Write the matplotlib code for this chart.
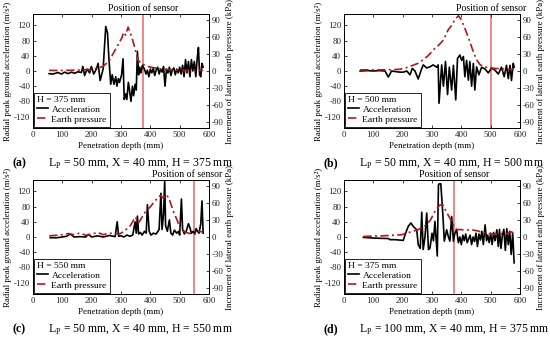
import matplotlib
matplotlib.use("Agg")
import matplotlib.pyplot as plt
from matplotlib.transforms import blended_transform_factory

plt.rcParams['font.family'] = ['Liberation Serif', 'DejaVu Serif']
plt.rcParams['mathtext.fontset'] = 'custom'
plt.rcParams['mathtext.rm'] = 'Liberation Serif'
plt.rcParams['axes.unicode_minus'] = False

# (a) Lp = 50 mm, X = 40 mm, H = 375 mm
acc_x_a = [55, 68, 85, 97, 108, 119, 131, 142, 153, 165, 170, 176, 184, 193, 199, 207, 216, 222, 229, 239,
           248, 254, 259, 265, 270, 276, 282, 286, 291, 295, 302, 307, 311, 316, 320, 325, 329, 334, 339, 343,
           348, 352, 356, 360, 364, 368, 373, 380, 385, 390, 395, 400, 405, 410, 415, 420, 425, 430, 435, 440,
           445, 450, 455, 460, 465, 470, 475, 480, 485, 490, 495, 500, 505, 510, 515, 520, 525, 530, 535, 540,
           545, 550, 555, 560, 564, 568, 572, 576, 580]
acc_y_a = [-7, -8, -4, -8, -3, -7, -3, -6, -2, -4, 12, -12, 5, -5, 12, -8, 5, 20, -25, 5,
           117, 100, 30, -35, -10, -35, -15, -40, -20, -30, -10, 32, -75, -60, -75, -30, -50, -80, -40, -65,
           -35, -50, 52, -10, 10, -5, 15, 5, -8, 2, -15, 5, -5, 8, -12, 3, 10, -8, 5, -3,
           12, -40, 5, -5, 10, -12, 3, 8, -10, 5, -5, 10, -8, 15, -15, 30, -5, 25, -15, 30,
           0, 25, -15, 35, 62, -10, -15, 20, 10]
ep_x_a = [55, 100, 150, 170, 200, 220, 239, 260, 278, 292, 303, 309, 316, 324, 333, 341, 350, 358, 368, 381,
          398, 420, 445, 480, 510, 540, 565, 580]
ep_y_a = [1, 1, 1.5, 2, 3, 5, 8, 18, 35, 48, 58, 68, 63, 77, 65, 52, 35, 19, 14, 10,
          7, 5, 3, 2, 1, 1, 2, 1]

# (b) Lp = 50 mm, X = 40 mm, H = 500 mm
acc_x_b = [55, 80, 100, 120, 140, 151, 162, 180, 191, 202, 214, 225, 233, 242, 253, 262, 270, 282, 293, 304,
           316, 321, 324, 333, 339, 346, 353, 359, 367, 373, 381, 387, 395, 401, 407, 412, 418, 424, 429, 435,
           441, 446, 452, 460, 469, 481, 492, 503, 515, 526, 537, 546, 554, 560, 566, 571, 577, 580]
acc_y_b = [0, 1, 0, 1, 0, -16, 0, -2, -3, -3, 0, -10, 7, 0, -21, 0, 16, 8, 11, 16,
           10, 16, -85, 16, -40, 25, -62, 10, -50, 15, -76, 33, 42, 28, 38, -15, 28, -24, 25, -40,
           20, -50, 11, -10, 10, 5, -5, 8, 2, -8, 10, -15, 15, -20, 15, -25, 20, 10]
ep_x_b = [55, 100, 150, 190, 213, 235, 255, 270, 285, 298, 310, 322, 335, 344, 355, 367, 378, 390, 396, 402,
          412, 420, 430, 442, 453, 464, 480, 500, 530, 560, 580]
ep_y_b = [2, 2, 2, 3, 6, 10, 14, 20, 26, 33, 40, 45, 52, 60, 72, 80, 90, 97, 93, 87,
          75, 64, 50, 32, 19, 11, 7, 5, 4, 3, 3]

# (c) Lp = 50 mm, X = 40 mm, H = 550 mm
acc_x_c = [59, 80, 100, 115, 127, 140, 160, 180, 189, 200, 220, 240, 260, 280, 287, 292, 300, 310, 320, 330,
           340, 348, 352, 356, 360, 366, 372, 380, 386, 390, 396, 402, 410, 420, 430, 436, 440, 445, 449, 452,
           458, 465, 470, 476, 482, 490, 496, 500, 506, 510, 516, 522, 530, 536, 540, 546, 552, 556, 561, 566,
           572, 576, 580]
acc_y_c = [-2, -2, 0, 2, 8, 0, 1, 0, 7, 0, 3, 0, 4, 1, 40, 2, 3, 0, 5, 2,
           5, 40, 10, 55, 8, 12, 5, 15, 10, 85, 15, 5, 10, 8, 20, 115, 20, 60, 148, 30,
           15, 45, 10, 5, 18, 10, 15, 5, 100, 20, 8, 15, 35, 22, 10, 15, 8, 22, 15, 10,
           35, 95, 10]
ep_x_c = [55, 80, 100, 120, 140, 160, 180, 200, 220, 240, 260, 280, 298, 315, 332, 349, 360, 366, 383, 400,
          417, 434, 445, 451, 462, 468, 479, 491, 502, 519, 535, 548, 562, 576]
ep_y_c = [2, 3, 4, 6, 4, 7, 3, 5, 8, 4, 7, 5, 6, 12, 20, 35, 25, 30, 44, 53,
          64, 73, 68, 74, 70, 61, 44, 30, 15, 9, 6, 4, 10, 9]

# (d) Lp = 100 mm, X = 40 mm, H = 375 mm
acc_x_d = [66, 106, 151, 157, 174, 202, 210, 219, 228, 236, 248, 253, 260, 265, 270, 276, 282, 288, 293, 300,
           305, 310, 318, 322, 325, 330, 336, 342, 350, 356, 361, 367, 373, 378, 384, 390, 395, 400, 405, 410,
           415, 420, 425, 430, 435, 440, 445, 450, 455, 460, 465, 470, 475, 481, 486, 490, 495, 500, 505, 510,
           515, 521, 526, 530, 535, 540, 545, 550, 555, 560, 565, 570, 575, 580]
acc_y_d = [-1, -3, -4, -7, -7, -9, 10, 28, 37, 28, 19, -20, -30, 65, -33, 0, 63, -33, -30, 10,
           -10, 41, -50, 137, 140, 140, 72, -11, 19, 0, -11, 54, -11, 10, 19, -15, 0, -20, 5, -10,
           8, -15, -5, 5, -20, 0, -12, 10, -25, 8, -8, 15, -20, 32, -10, 5, -15, 10, -20, 12,
           -10, 19, -25, 20, -30, 5, 20, -35, 22, -20, 15, -46, 10, -68]
ep_x_d = [66, 130, 197, 214, 235, 253, 268, 281, 295, 310, 320, 327, 337, 348, 361, 373, 384, 400, 415, 430,
          453, 475, 498, 515, 532, 550, 565, 572, 580]
ep_y_d = [1, 2, 4, 7, 10, 13, 17, 21, 30, 45, 52, 56, 56, 45, 33, 21, 13, 13, 12, 13,
          11, 8, 6, 5, 6, 5, 8, 9, 5]

sensor_pos = [375, 500, 550, 375]
tags = ['(a)', '(b)', '(c)', '(d)']
lp_vals = [50, 50, 50, 100]
x_vals = [40, 40, 40, 40]

panels = [(acc_x_a, acc_y_a, ep_x_a, ep_y_a),
          (acc_x_b, acc_y_b, ep_x_b, ep_y_b),
          (acc_x_c, acc_y_c, ep_x_c, ep_y_c),
          (acc_x_d, acc_y_d, ep_x_d, ep_y_d)]

W, H_px = 550, 340
fig = plt.figure(figsize=(5.5, 3.4), dpi=100)

# left / top pixel positions of the plot boxes
boxes = [(33, 14), (344, 14), (33, 180), (344, 180)]
bw, bh = 176, 114

for i, (ax_, ay_, ex_, ey_) in enumerate(panels):
    l, t = boxes[i]
    ax = fig.add_axes([l / W, 1 - (t + bh) / H_px, bw / W, bh / H_px])
    ax2 = ax.twinx()

    ax.axvline(sensor_pos[i], color='#f07070', lw=1.2, zorder=1)
    la, = ax.plot(ax_, ay_, color='black', lw=1.2, zorder=3)
    le, = ax2.plot(ex_, ey_, color='#b01818', lw=1.2, linestyle=(0, (5, 2, 1.2, 2)))

    ax.set_xlim(0, 600)
    ax.set_ylim(-150, 150)
    ax2.set_ylim(-100, 100)
    ax.set_xticks(range(0, 601, 100))
    ax.set_yticks(range(-120, 121, 40))
    ax2.set_yticks(range(-90, 91, 30))

    ax.tick_params(direction='in', top=True, right=False, length=2.5, width=0.6,
                   labelsize=6.4, pad=2, colors='#222222')
    ax2.tick_params(direction='in', length=2.5, width=0.6, labelsize=6.4, pad=2,
                    colors='#222222')
    for a in (ax, ax2):
        for s in a.spines.values():
            s.set_linewidth(0.7)

    ax.set_xlabel('Penetration depth (mm)', fontsize=6.4, labelpad=2)
    ax.set_ylabel('Radial peak ground acceleration (m/s²)', fontsize=6.4, labelpad=1)
    ax2.set_ylabel('Increment of lateral earth pressure (kPa)', fontsize=6.4, labelpad=2)

    tr = blended_transform_factory(ax.transData, ax.transAxes)
    ax.text(min(sensor_pos[i], 525), 1.005, 'Position of sensor', transform=tr,
            ha='center', va='bottom', fontsize=7)

    leg = ax2.legend([la, le], ['Acceleration', 'Earth pressure'],
                     title='H = %d mm' % sensor_pos[i], alignment='left',
                     loc='lower left', fontsize=6.8, title_fontsize=6.8,
                     frameon=True, fancybox=False, edgecolor='black', framealpha=1,
                     borderaxespad=0.15, handlelength=1.1, handletextpad=0.4,
                     borderpad=0.3, labelspacing=0.15)
    leg.get_frame().set_linewidth(0.6)

    cy = 1 - (t + bh + 35) / H_px
    fig.text((l - 21) / W, cy, tags[i], fontsize=8.5, fontweight='bold', va='center')
    fig.text((l + 15) / W, cy,
             r'L$_\mathrm{P}$ = %d mm, X = %d mm, H = %d mm' % (lp_vals[i], x_vals[i], sensor_pos[i]),
             fontsize=8.5, va='center')

fig.savefig('out.png', dpi=100)
